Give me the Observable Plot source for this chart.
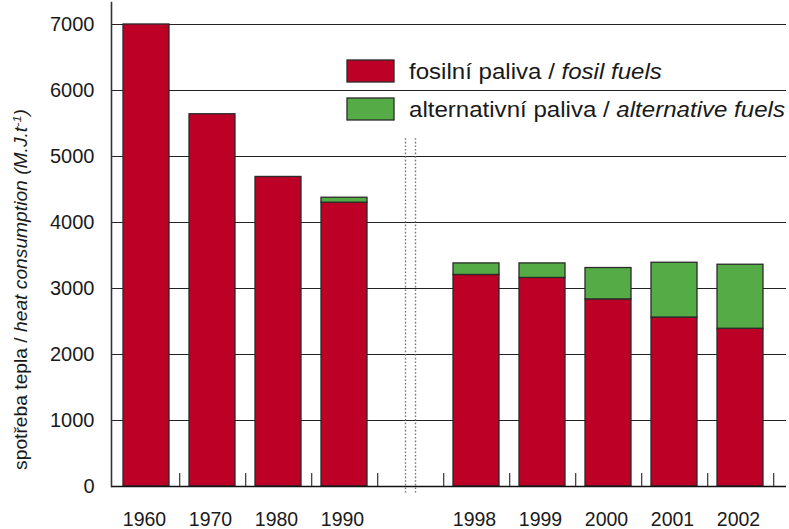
<!DOCTYPE html>
<html>
<head>
<meta charset="utf-8">
<script src="https://cdn.jsdelivr.net/npm/d3@7"></script>
<script src="https://cdn.jsdelivr.net/npm/@observablehq/plot@0.6"></script>
<style>
  html, body { margin: 0; padding: 0; background: #fff; }
  #chart svg { display: block; }
</style>
</head>
<body>
<div id="chart"></div>
<script>
// ---- data ----
const years = ["1960", "1970", "1980", "1990", "1998", "1999", "2000", "2001", "2002"];
const fossil = [7000, 5640, 4690, 4300, 3205, 3160, 2835, 2560, 2390];
const alternative = [0, 0, 0, 75, 175, 220, 475, 830, 970];
const yTicks = [0, 1000, 2000, 3000, 4000, 5000, 6000, 7000];
const seriesKeys = ["fossil", "alternative"];
const seriesLabels = [
  ["fosilní paliva / ", "fosil fuels"],
  ["alternativní paliva / ", "alternative fuels"]
];
const gapKey = "gap";

// ---- styling ----
const RED = "#BD0026";
const GREEN = "#55AB45";
const FONT = "'Liberation Sans', Arial, Helvetica, sans-serif";

const domain = [...years.slice(0, 4), gapKey, ...years.slice(4)];
const rows = [];
years.forEach((y, i) => {
  rows.push({year: y, series: "fossil", value: fossil[i]});
});
years.forEach((y, i) => {
  if (alternative[i] > 0) rows.push({year: y, series: "alternative", value: alternative[i]});
});

const xLeft = 111, xRight = 775;
const step = (xRight - xLeft) / domain.length;

const chart = Plot.plot({
  width: 789,
  height: 529,
  marginLeft: 111,
  marginRight: 3,
  marginTop: 2,
  marginBottom: 43,
  style: {fontFamily: FONT, color: "#1a1a1a", background: "white", overflow: "visible"},
  x: {type: "band", domain, range: [xLeft, xRight], paddingInner: 0.3, paddingOuter: 0.15},
  y: {domain: [0, 7333]},
  color: {domain: seriesKeys, range: [RED, GREEN]},
  marks: [
    Plot.ruleY(yTicks.filter(v => v > 0), {stroke: "#222", strokeWidth: 1.2}),
    Plot.barY(rows, {x: "year", y: "value", fill: "series", stroke: "#2a2a2a", strokeWidth: 1.3}),
    Plot.ruleY([0], {stroke: "#111", strokeWidth: 1.6}),
    Plot.frame({anchor: "left", stroke: "#333", strokeWidth: 1.6}),
    Plot.ruleX(domain, {x: d => d, dx: step / 2, y1: 0, y2: 197, stroke: "#333", strokeWidth: 1.2}),
    Plot.ruleX([gapKey], {x: d => d, dx: -5, y1: -100, y2: 5290, stroke: "#777", strokeWidth: 1.4, strokeDasharray: "1.6,2"}),
    Plot.ruleX([gapKey], {x: d => d, dx: 5, y1: -100, y2: 5290, stroke: "#777", strokeWidth: 1.4, strokeDasharray: "1.6,2"}),
    Plot.axisY({ticks: yTicks, tickSize: 0, tickPadding: 17, fontSize: 20, label: null, tickFormat: d => String(d)}),
    Plot.axisX({tickSize: 0, tickPadding: 26, fontSize: 19.5, label: null, dx: -2, tickFormat: d => d === gapKey ? "" : d})
  ]
});

document.getElementById("chart").appendChild(chart);

// ---- y-axis title (mixed upright / italic) ----
const svg = d3.select(chart);
const title = svg.append("text")
  .attr("transform", "translate(27,289.5) rotate(-90) scale(1.1,1)")
  .attr("text-anchor", "middle")
  .attr("font-family", FONT)
  .attr("font-size", 17.5)
  .attr("fill", "#1a1a1a");
title.append("tspan").text("spotřeba tepla / ");
title.append("tspan").attr("font-style", "italic").text("heat consumption (M.J.t");
title.append("tspan").attr("font-style", "italic").attr("font-size", 11.5).attr("dy", -6.5).text("-1");
title.append("tspan").attr("font-style", "italic").attr("dy", 6.5).text(")");

// ---- legend ----
const legendX = 347, legendY0 = 60, legendDY = 38;
seriesKeys.forEach((k, i) => {
  const g = svg.append("g").attr("transform", `translate(${legendX},${legendY0 + i * legendDY})`);
  g.append("rect").attr("width", 47).attr("height", 22)
    .attr("fill", i === 0 ? RED : GREEN).attr("stroke", "#2a2a2a").attr("stroke-width", 1.3);
  const t = g.append("text").attr("transform", "translate(62,18.5) scale(1.095,1)")
    .attr("text-anchor", "start")
    .attr("font-family", FONT).attr("font-size", 22).attr("fill", "#1a1a1a");
  t.append("tspan").text(seriesLabels[i][0]);
  t.append("tspan").attr("font-style", "italic").text(seriesLabels[i][1]);
});
</script>
</body>
</html>
